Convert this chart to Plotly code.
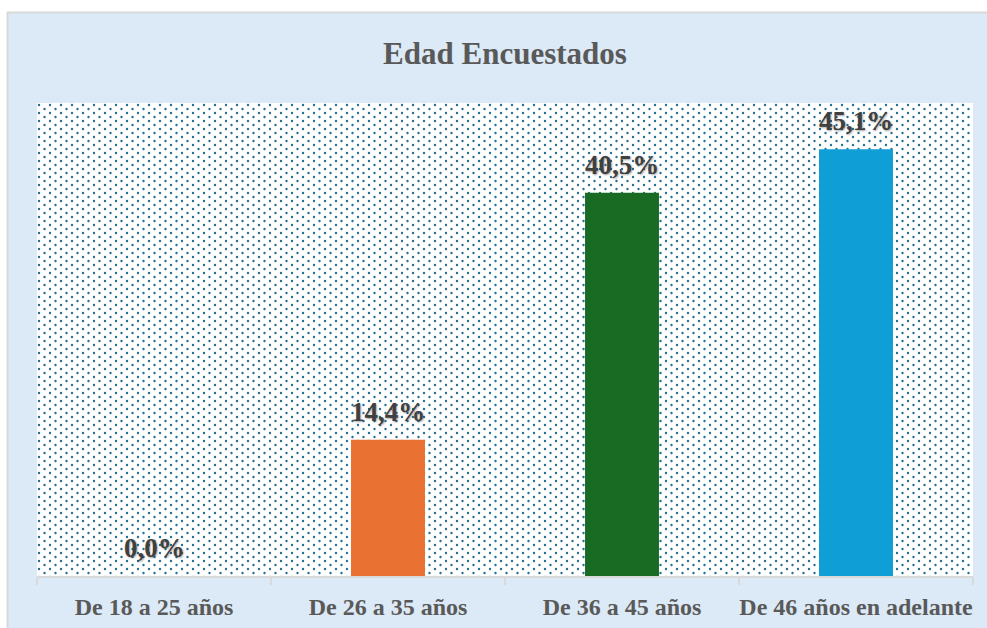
import base64
import plotly.graph_objects as go

categories = ["De 18 a 25 años", "De 26 a 35 años", "De 36 a 45 años", "De 46 años en adelante"]
values = [0.0, 14.4, 40.5, 45.1]
labels = ["0,0%", "14,4%", "40,5%", "45,1%"]
bar_colors = ["#E97132", "#E97132", "#196B24", "#0F9ED5"]
title_text = "Edad Encuestados"

W, H = 987, 628
L, R, T, B = 37, 14, 103, 52
PW, PH = W - L - R, H - T - B

dot = "#236F93"
svg = (
    f'<svg xmlns="http://www.w3.org/2000/svg" width="{PW}" height="{PH}">'
    '<defs><pattern id="p" width="11" height="8" patternUnits="userSpaceOnUse">'
    f'<circle cx="2" cy="2" r="1.2" fill="{dot}"/>'
    f'<circle cx="7.5" cy="6" r="1.2" fill="{dot}"/>'
    '</pattern></defs>'
    '<rect width="100%" height="100%" fill="#FFFFFF"/>'
    '<rect width="100%" height="100%" fill="url(#p)"/></svg>'
)
src = "data:image/svg+xml;base64," + base64.b64encode(svg.encode()).decode()

fig = go.Figure()
fig.add_trace(go.Bar(
    x=categories, y=values,
    marker=dict(color=bar_colors, line=dict(width=0)),
    hoverinfo="x+y",
))

for c, v, t in zip(categories, values, labels):
    fig.add_annotation(
        x=c, y=v, text=f"<b>{t}</b>", showarrow=False,
        yanchor="bottom", yshift=11,
        font=dict(family="Liberation Serif, Times New Roman, serif", size=27, color="#404040",
                  shadow="1px 1px 2px rgba(0,0,0,0.35)"),
    )

def px2x(px):
    return (px - L) / PW

def py2y(py):
    return (H - B - py) / PH

# white outer strip (top and left) + grey frame line
fig.add_shape(type="rect", xref="paper", yref="paper", x0=px2x(0), x1=px2x(W), y0=py2y(0), y1=py2y(12),
              fillcolor="white", line=dict(width=0), layer="above")
fig.add_shape(type="rect", xref="paper", yref="paper", x0=px2x(0), x1=px2x(7), y0=py2y(0), y1=py2y(H),
              fillcolor="white", line=dict(width=0), layer="above")
fig.add_shape(type="line", xref="paper", yref="paper", x0=px2x(7), x1=px2x(W), y0=py2y(12.5), y1=py2y(12.5),
              line=dict(color="#D9D9D9", width=2), layer="above")
fig.add_shape(type="line", xref="paper", yref="paper", x0=px2x(7.5), x1=px2x(7.5), y0=py2y(12), y1=py2y(H),
              line=dict(color="#D9D9D9", width=2), layer="above")

fig.add_layout_image(dict(
    source=src, xref="paper", yref="paper", x=0, y=1, sizex=1, sizey=1,
    xanchor="left", yanchor="top", sizing="stretch", layer="below",
))

fig.update_layout(
    width=W, height=H,
    margin=dict(l=L, r=R, t=T, b=B, autoexpand=False),
    paper_bgcolor="#DCE9F6",
    plot_bgcolor="#FFFFFF",
    bargap=0.684,
    showlegend=False,
    title=dict(text=f"<b>{title_text}</b>", x=0.5, xanchor="center", xref="paper",
               y=1 - 53 / H, yanchor="middle", yref="container",
               font=dict(family="Liberation Serif, Times New Roman, serif", size=31, color="#595959")),
    xaxis=dict(
        type="category", range=[-0.5, 3.5],
        showline=True, linecolor="#D9D9D9", linewidth=1.5,
        ticks="outside", tickson="boundaries", ticklen=7, tickcolor="#D9D9D9", tickwidth=1.5,
        ticklabelstandoff=8, tickangle=0, automargin=False,
        tickfont=dict(family="Liberation Serif, Times New Roman, serif", size=24, color="#595959", weight="bold"),
        showgrid=False, fixedrange=True,
    ),
    yaxis=dict(range=[0, 50], visible=False, showgrid=False, zeroline=False, fixedrange=True),
)

fig.write_html(
    "out.html",
    config={"displayModeBar": False},
    post_script="document.body.style.margin='0';document.body.style.overflow='hidden';",
)
